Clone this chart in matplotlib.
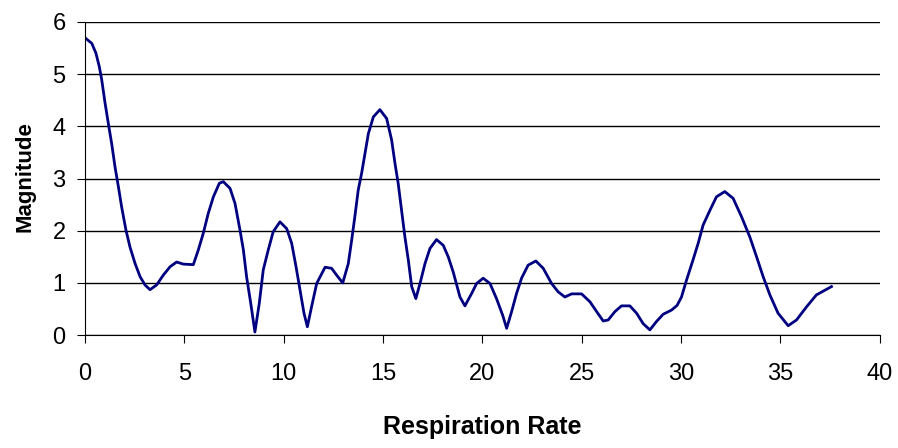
import matplotlib.pyplot as plt

# data
rate = [0.05, 0.34, 0.55, 0.72, 0.84, 1.01, 1.17, 1.34, 1.51, 1.68, 1.84, 2.06, 2.26,
        2.52, 2.77, 3.02, 3.27, 3.6, 3.94, 4.28, 4.61, 4.95, 5.45, 5.7, 5.95, 6.2,
        6.46, 6.76, 6.96, 7.3, 7.55, 7.8, 7.97, 8.13, 8.34, 8.55, 8.77, 8.97, 9.22,
        9.47, 9.81, 10.15, 10.4, 10.62, 10.82, 11.02, 11.19, 11.4, 11.66, 12.08,
        12.41, 12.66, 12.97, 13.25, 13.42, 13.58, 13.75, 13.92, 14.09, 14.26,
        14.51, 14.84, 15.18, 15.43, 15.6, 15.76, 15.93, 16.1, 16.27, 16.44, 16.65,
        16.86, 17.11, 17.36, 17.69, 18.03, 18.28, 18.53, 18.87, 19.12, 19.46,
        19.71, 20.04, 20.38, 20.71, 21.02, 21.22, 21.47, 21.72, 21.97, 22.3,
        22.69, 23.06, 23.48, 23.81, 24.15, 24.49, 24.99, 25.41, 25.75, 26.08,
        26.33, 26.67, 27.0, 27.42, 27.76, 28.09, 28.43, 28.76, 29.1, 29.52, 29.8,
        30.02, 30.27, 30.6, 30.86, 31.11, 31.45, 31.78, 32.2, 32.62, 33.04, 33.46,
        33.8, 34.13, 34.47, 34.88, 35.39, 35.81, 36.31, 36.81, 37.57]
magnitude = [5.68, 5.59, 5.4, 5.14, 4.89, 4.44, 4.06, 3.67, 3.22, 2.84, 2.46, 2.01, 1.69,
             1.37, 1.12, 0.96, 0.87, 0.96, 1.15, 1.31, 1.4, 1.36, 1.35, 1.63, 1.95, 2.33,
             2.65, 2.91, 2.94, 2.81, 2.52, 2.01, 1.63, 1.12, 0.61, 0.06, 0.61, 1.25, 1.63,
             1.98, 2.17, 2.04, 1.76, 1.31, 0.86, 0.42, 0.16, 0.54, 0.99, 1.3,
             1.28, 1.15, 1.0, 1.37, 1.82, 2.27, 2.78, 3.1, 3.48, 3.86,
             4.18, 4.32, 4.15, 3.74, 3.29, 2.91, 2.39, 1.88, 1.44, 0.93, 0.7,
             0.99, 1.37, 1.66, 1.83, 1.72, 1.5, 1.21, 0.73, 0.56, 0.8,
             0.99, 1.09, 0.99, 0.7, 0.38, 0.13, 0.45, 0.8, 1.09, 1.34,
             1.42, 1.28, 0.99, 0.83, 0.73, 0.79, 0.79, 0.64, 0.45, 0.27,
             0.29, 0.45, 0.56, 0.56, 0.42, 0.22, 0.1, 0.26, 0.4, 0.48, 0.57,
             0.73, 1.05, 1.44, 1.76, 2.11, 2.39, 2.65, 2.75, 2.62, 2.27, 1.88,
             1.5, 1.12, 0.77, 0.42, 0.18, 0.29, 0.54, 0.77, 0.93]
xticks = [0, 5, 10, 15, 20, 25, 30, 35, 40]
yticks = [0, 1, 2, 3, 4, 5, 6]

plt.rcParams['font.family'] = ['Liberation Sans', 'DejaVu Sans']

fig = plt.figure(figsize=(8.98, 4.48), dpi=100)
ax = fig.add_axes([0.0947, 0.252, 0.885, 0.699])

ax.plot(rate, magnitude, color='#000080', linewidth=2, solid_joinstyle='round')

ax.set_xlim(0, 40)
ax.set_ylim(0, 6)
ax.set_xticks(xticks)
ax.set_yticks(yticks)
ax.yaxis.grid(True, color='black', linewidth=1)
ax.set_axisbelow(True)

for s in ['top', 'right']:
    ax.spines[s].set_visible(False)

ax.tick_params(axis='x', labelsize=17, length=6, pad=14, direction='out')
ax.tick_params(axis='y', labelsize=17, length=6, pad=8, direction='out')

ax.set_xlabel('Respiration Rate', fontsize=18, fontweight='bold', labelpad=22)
ax.set_ylabel('Magnitude', fontsize=16, fontweight='bold')
ax.yaxis.set_label_coords(-0.062, 0.505)

fig.savefig('out.png', dpi=100)
